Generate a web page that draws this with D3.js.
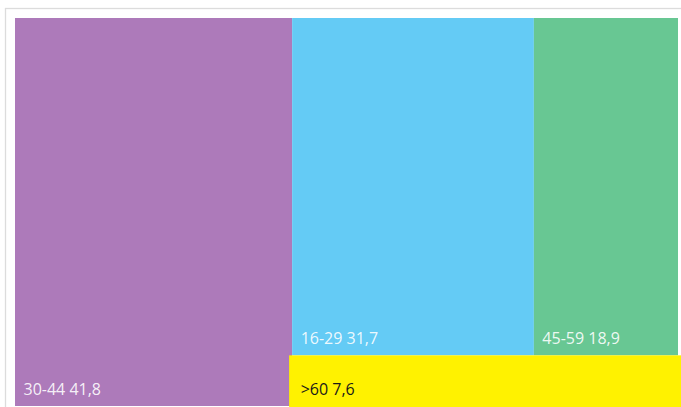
<!DOCTYPE html>
<html>
<head>
<meta charset="utf-8">
<script src="https://cdn.jsdelivr.net/npm/d3@7"></script>
<style>
  html, body { margin: 0; padding: 0; background: #ffffff; }
  svg { display: block; }
</style>
</head>
<body>
<svg id="chart" width="681" height="407"></svg>
<script>
const categories = ["30-44", "16-29", "45-59", ">60"];
const values = [41.8, 31.7, 18.9, 7.6];
const valueLabels = ["41,8", "31,7", "18,9", "7,6"];
const colors = ["#ad7aba", "#64cbf5", "#68c793", "#fff200"];
const labelColors = ["rgba(255,255,255,0.9)", "rgba(255,255,255,0.9)", "rgba(255,255,255,0.9)", "#1a1a1a"];

const W = 681, H = 407;
const svg = d3.select("#chart");

// outer frame
svg.append("rect")
  .attr("x", 5.5).attr("y", 8.5)
  .attr("width", W + 10).attr("height", H + 10)
  .attr("fill", "none")
  .attr("stroke", "#dcdcdc")
  .attr("stroke-width", 1.3);

const area = { x0: 15, y0: 18, x1: 678, y1: 406 };

const leaf = i => ({ name: categories[i], value: values[i], label: valueLabels[i], color: colors[i], tc: labelColors[i], idx: i });
// layout structure of the reference: first column, then a stack of (row of two) over one
const tree = {
  children: [
    leaf(0),
    { children: [ { children: [leaf(1), leaf(2)] }, leaf(3) ] }
  ]
};

const root = d3.hierarchy(tree).sum(d => d.value || 0);

d3.treemap()
  .tile(d3.treemapSliceDice)
  .size([area.x1 - area.x0, area.y1 - area.y0])
  .paddingInner(0)
  .round(false)(root);

const g = svg.append("g").attr("transform", `translate(${area.x0},${area.y0})`);

const leaves = root.leaves();
const inflate = d => d.data.idx === 3 ? 3 : 0;

const cell = g.selectAll("g.cell")
  .data(leaves)
  .join("g")
  .attr("class", "cell");

cell.append("rect")
  .attr("x", d => d.x0 - inflate(d))
  .attr("y", d => d.y0)
  .attr("width", d => d.x1 - d.x0 + 2 * inflate(d))
  .attr("height", d => d.y1 - d.y0 + (inflate(d) ? 1 : 0))
  .attr("fill", d => d.data.color);

cell.append("text")
  .attr("x", d => d.x0 + 8.5)
  .attr("y", d => d.y1 - 11)
  .attr("font-family", "'Open Sans', 'Noto Sans', sans-serif")
  .attr("font-size", 16)
  .attr("fill", d => d.data.tc)
  .text(d => `${d.data.name} ${d.data.label}`);
</script>
</body>
</html>
